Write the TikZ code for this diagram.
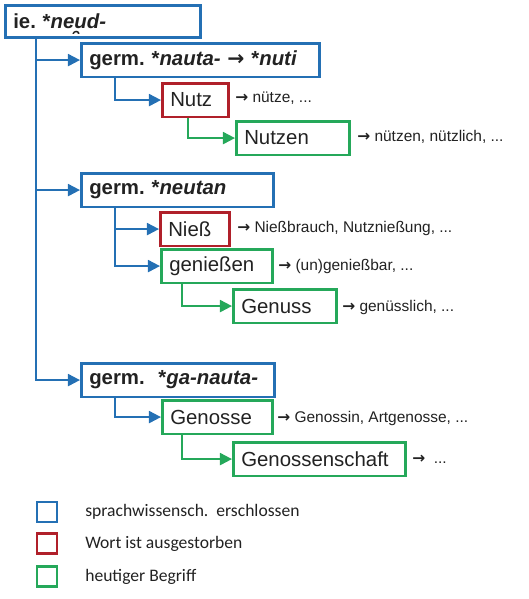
\documentclass[tikz,border=0pt]{standalone}
\usepackage{fontspec}
\setmainfont{Liberation Sans}
\newfontfamily\legendfont{Carlito}
\newfontfamily\arrowfont{DejaVu Sans}
\usepackage{graphicx}
\usetikzlibrary{arrows.meta}
\definecolor{etymblue}{HTML}{2470B4}
\definecolor{etymred}{HTML}{B0202A}
\definecolor{etymgreen}{HTML}{25A85A}
\definecolor{inkgray}{HTML}{222222}
\newcommand\unsyl[1]{\ooalign{#1\cr\hidewidth\raisebox{-0.3em}[0pt][0pt]{\rotatebox[origin=c]{180}{\char"02D8}}\kern0.3em\hidewidth\cr}}
\newcommand\toarr{{\arrowfont\bfseries →}}
\frenchspacing

\begin{document}
\begin{tikzpicture}[x=0.025cm,y=-0.025cm,
  term/.style={draw,rectangle,anchor=north west,line width=1.8pt,
    inner xsep=2mm,inner ysep=0pt,minimum height=8.4mm,align=left,
    text=inkgray,font=\fontsize{14.5}{17}\selectfont},
  reconstr/.style={term,draw=etymblue,font=\fontsize{14.5}{17}\selectfont\bfseries},
  extinct/.style={term,draw=etymred},
  modern/.style={term,draw=etymgreen},
  gloss/.style={anchor=west,inner sep=0pt,text=inkgray,
    font=\fontsize{11}{13}\selectfont},
  bluelink/.style={-{Triangle[length=3mm,width=3mm]},line width=1.4pt,etymblue},
  greenlink/.style={bluelink,etymgreen},
  keybox/.style={draw,rectangle,line width=1.8pt,minimum size=5mm,inner sep=0pt},
  keytext/.style={anchor=west,inner sep=0pt,text=inkgray,
    font=\legendfont\fontsize{12.5}{15}\selectfont}
]
  \useasboundingbox (0,0) rectangle (528,599);

  \node[reconstr,text width=44.75mm,minimum height=8mm] (ie) at (4,4)
    {ie. *\textit{ne\unsyl{u}d-}};

  \node[reconstr,text width=55.5mm] (g1) at (80,42)
    {germ. *\textit{nauta-} \toarr{} *\textit{nuti}};
  \node[extinct,text width=12.5mm] (nutz) at (161,82) {Nutz};
  \node[modern,text width=24.25mm] (nutzen) at (235,120) {Nutzen};
  \node[gloss] (gl1) at (235,98) {\toarr{} nütze, ...};
  \node[gloss] (gl2) at (357,137) {\toarr{} nützen, nützlich, ...};

  \node[reconstr,text width=44mm] (g2) at (80,172) {germ. *\textit{neutan}};
  \node[extinct,text width=13.25mm] (niess) at (159,211) {Nieß};
  \node[modern,text width=23.75mm] (geniessen) at (160,248) {genießen};
  \node[modern,text width=21.75mm] (genuss) at (232,288) {Genuss};
  \node[gloss] (gl3) at (237,228) {\toarr{} Nießbrauch, Nutznießung, ...};
  \node[gloss] (gl4) at (278,266) {\toarr{} (un)genießbar, ...};
  \node[gloss] (gl5) at (342,307) {\toarr{} genüsslich, ...};

  \node[reconstr,text width=44.25mm] (g3) at (80,362)
    {germ.\ \ *\textit{ga-nauta-}};
  \node[modern,text width=23.5mm] (genosse) at (161,399) {Genosse};
  \node[modern,text width=39mm] (genossenschaft) at (232,441) {Genossenschaft};
  \node[gloss] (gl6) at (277,418) {\toarr{} Genossin, Artgenosse, ...};
  \node[gloss] (gl7) at (412,459) {\toarr\ \ ...};

  \draw[bluelink] ([xshift=8mm]ie.south west) |- (g1.west);
  \draw[bluelink] ([xshift=8mm]ie.south west) |- (g2.west);
  \draw[bluelink] ([xshift=8mm]ie.south west) |- (g3.west);
  \draw[bluelink] ([xshift=8.75mm]g1.south west) |- (nutz.west);
  \draw[greenlink] ([xshift=6.75mm]nutz.south west) |- (nutzen.west);
  \draw[bluelink] ([xshift=8.75mm]g2.south west) |- (niess.west);
  \draw[bluelink] ([xshift=8.75mm]g2.south west) |- (geniessen.west);
  \draw[greenlink] ([xshift=5.5mm]geniessen.south west) |- (genuss.west);
  \draw[bluelink] ([xshift=8.75mm]g3.south west) |- (genosse.west);
  \draw[greenlink] ([xshift=5.25mm]genosse.south west) |- (genossenschaft.west);

  % legend
  \node[keybox,draw=etymblue] (kblue) at (47,512) {};
  \node[keybox,draw=etymred] (kred) at (47,543.5) {};
  \node[keybox,draw=etymgreen] (kgreen) at (47,576.5) {};
  \node[keytext] (tblue) at (85,512) {sprachwissensch.\ \ erschlossen};
  \node[keytext] (tred) at (85,543.5) {Wort ist ausgestorben};
  \node[keytext] (tgreen) at (85,576.5) {heutiger Begriff};
\end{tikzpicture}
\end{document}
